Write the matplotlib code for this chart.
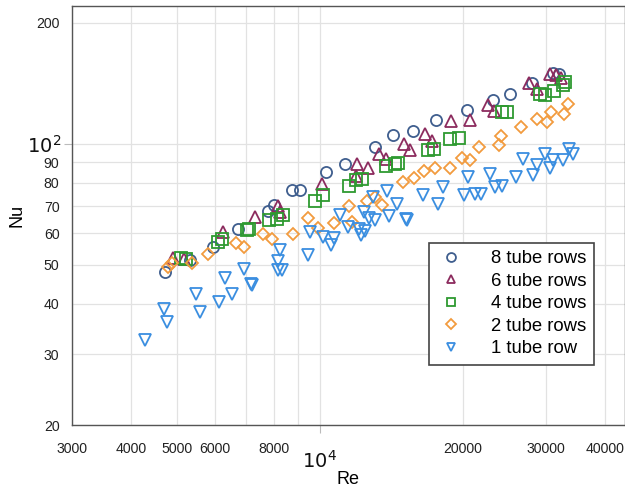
import matplotlib
matplotlib.use("Agg")
import matplotlib.pyplot as plt
import matplotlib.ticker as mticker

plt.rcParams['font.family'] = ['Liberation Sans', 'DejaVu Sans']

# Nusselt number vs Reynolds number for tube banks of different depth
re_8 = [4720, 5330, 5940, 6730, 7760, 8000, 8720, 9080, 10280, 11290, 13060,
        14270, 15720, 17610, 20420, 23170, 25120, 28040, 30990, 32010]
nu_8 = [48.0, 51.5, 55.4, 61.5, 68.1, 70.3, 76.6, 76.6, 85.1, 89.3, 98.2,
        105.0, 107.6, 114.4, 121.1, 128.3, 133.3, 141.2, 149.5, 148.7]

re_6 = [4910, 5160, 6240, 7300, 8150, 8240, 10080, 11910, 11980, 12640, 13310,
        13770, 15050, 15470, 16640, 17270, 18940, 20770, 22610, 23280, 27580,
        28680, 30600, 31500, 32270]
nu_6 = [52.1, 51.8, 60.3, 65.8, 69.9, 67.7, 79.6, 83.0, 89.3, 87.1, 94.2,
        91.9, 100.1, 96.7, 106.0, 101.6, 113.7, 114.4, 124.7, 120.4, 141.2,
        137.2, 148.9, 148.1, 145.3]

re_4 = [5100, 5220, 6100, 6220, 7030, 7090, 7810, 8110, 8370, 9760, 10130,
        11530, 11910, 12240, 13770, 14380, 14620, 16900, 17380, 18850, 19650,
        24250, 24800, 29050, 29770, 31240, 32530, 32800]
nu_4 = [52.1, 51.8, 56.9, 58.1, 60.9, 61.5, 64.5, 65.2, 66.4, 71.9, 74.5,
        78.4, 81.1, 81.9, 87.9, 89.3, 89.6, 96.7, 97.3, 103.0, 103.6,
        120.0, 120.0, 133.3, 132.0, 135.3, 139.8, 142.5]

re_2 = [4790, 4870, 5370, 5800, 6650, 6920, 7600, 7940, 8760, 9450, 9890,
        10720, 11530, 11660, 12580, 13060, 13530, 14980, 15800, 16580, 17520,
        18850, 19940, 20690, 21650, 23850, 24130, 26580, 28680, 30100, 30750,
        32640, 33330]
nu_2 = [49.4, 50.6, 50.5, 53.1, 56.6, 55.4, 59.5, 58.1, 59.8, 65.4, 61.7,
        63.5, 69.9, 63.9, 72.1, 73.7, 70.3, 80.3, 82.4, 85.4, 87.1,
        87.3, 92.4, 91.0, 98.2, 99.5, 104.4, 110.1, 115.5, 113.3, 120.0,
        118.9, 125.4]

re_1 = [4280, 4680, 4750, 5480, 5590, 6130, 6320, 6540, 6920, 7150, 7190,
        8240, 8170, 8140, 8330, 9450, 9530, 10130, 10530, 10700, 11020, 11470,
        12100, 12180, 12400, 12460, 12700, 12950, 13060, 13820, 13990, 14570,
        15170, 15250, 16500, 17750, 18180, 20130, 20520, 21200, 21900, 22800,
        23360, 24250, 25950, 26790, 28130, 28680, 29870, 30500, 31090, 32530,
        33600, 34260]
nu_1 = [32.6, 38.9, 36.0, 42.4, 38.1, 40.4, 46.5, 42.4, 48.9, 44.7, 44.5,
        54.5, 51.0, 48.5, 48.5, 53.0, 60.4, 58.6, 56.1, 58.4, 66.4, 62.1,
        61.5, 59.2, 67.7, 60.7, 65.5, 73.7, 64.5, 76.3, 66.0, 71.0,
        65.2, 64.5, 74.5, 71.0, 78.1, 74.5, 82.7, 75.2, 74.9, 84.3,
        78.1, 78.4, 82.7, 91.9, 83.5, 88.4, 94.2, 87.3, 91.0, 91.0,
        97.3, 94.5]

series = [
    (re_8, nu_8, 'o', '#3f5e8e', '8 tube rows'),
    (re_6, nu_6, '^', '#8c2b5e', '6 tube rows'),
    (re_4, nu_4, 's', '#2e9a30', '4 tube rows'),
    (re_2, nu_2, 'D', '#f29b3e', '2 tube rows'),
    (re_1, nu_1, 'v', '#3a8ee0', '1 tube row'),
]

x_minor = [3000, 4000, 5000, 6000, 7000, 8000, 9000, 20000, 30000, 40000]
x_minor_labels = ['3000', '4000', '5000', '6000', '', '8000', '', '20000', '30000', '40000']
y_minor = [20, 30, 40, 50, 60, 70, 80, 90, 200]
y_minor_labels = ['20', '30', '40', '50', '60', '70', '80', '90', '200']

fig = plt.figure(figsize=(6.25, 4.91), dpi=100)
ax = fig.add_axes([0.1152, 0.1344, 0.8848, 0.8534])

for re, nu, m, c, lab in series:
    ms = 6.5 if m == 'D' else 8
    ax.plot(re, nu, linestyle='none', marker=m, markersize=ms,
            markerfacecolor='none', markeredgecolor=c, markeredgewidth=1.3,
            label=lab)

ax.set_xscale('log')
ax.set_yscale('log')
ax.set_xlim(3000, 44000)
ax.set_ylim(20, 220)

ax.xaxis.set_major_locator(mticker.FixedLocator([1e4]))
ax.xaxis.set_major_formatter(mticker.FixedFormatter([r'$10^4$']))
ax.xaxis.set_minor_locator(mticker.FixedLocator(x_minor))
ax.xaxis.set_minor_formatter(mticker.FixedFormatter(x_minor_labels))
ax.yaxis.set_major_locator(mticker.FixedLocator([100]))
ax.yaxis.set_major_formatter(mticker.FixedFormatter([r'$10^2$']))
ax.yaxis.set_minor_locator(mticker.FixedLocator(y_minor))
ax.yaxis.set_minor_formatter(mticker.FixedFormatter(y_minor_labels))

ax.tick_params(which='minor', length=0, labelsize=10.2, colors='#222222')
ax.tick_params(axis='x', which='minor', pad=12)
ax.tick_params(axis='y', which='minor', pad=9)
ax.tick_params(which='major', length=6, width=0.8, color='#bbbbbb',
               labelsize=14, labelcolor='#111111')
ax.tick_params(axis='x', which='major', pad=12)
ax.tick_params(axis='y', which='major', pad=2)

ax.grid(True, which='both', color='#e2e2e2', linewidth=0.9)
ax.set_axisbelow(True)
for s in ax.spines.values():
    s.set_color('#555555')
    s.set_linewidth(1.0)

ax.set_xlabel('Re', fontsize=13, labelpad=-1)
ax.set_ylabel('Nu', fontsize=13, labelpad=1)

leg = ax.legend(loc='upper right', bbox_to_anchor=(0.944, 0.435),
                borderaxespad=0, fontsize=13.3, markerscale=0.8,
                handletextpad=1.35, labelspacing=0.3, borderpad=0.4,
                handlelength=1.6, fancybox=False, framealpha=1)
leg.get_frame().set_edgecolor('#444444')
leg.get_frame().set_linewidth(1.2)

fig.savefig('out.png', dpi=100)
